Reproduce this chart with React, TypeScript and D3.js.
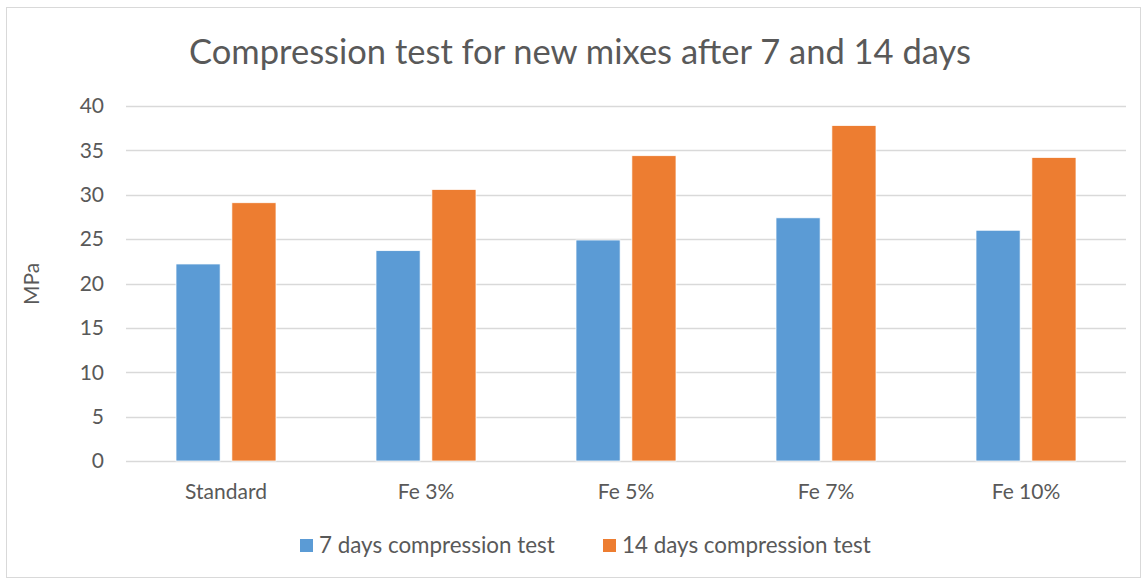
import * as d3 from "d3";
import { useEffect, useRef } from "react";

const categories = ["Standard", "Fe 3%", "Fe 5%", "Fe 7%", "Fe 10%"];
const seriesNames = ["7 days compression test", "14 days compression test"];
const days7 = [22.2, 23.7, 24.9, 27.4, 26.0];
const days14 = [29.1, 30.6, 34.4, 37.8, 34.2];
const yTicks = [0, 5, 10, 15, 20, 25, 30, 35, 40];
const colors = ["#5B9BD5", "#ED7D31"];

const W = 1146, H = 580;
const FONT = "Lato, 'Open Sans', sans-serif";
const TXT = "#595959";

const App = () => {
    const svgRef = useRef<SVGSVGElement | null>(null);

    useEffect(() => {
        const svg = d3.select(svgRef.current);
        svg.selectAll("*").remove();

        const plot = { left: 126, right: 1126, top: 106, bottom: 461 };

        // chart frame
        svg.append("rect")
            .attr("x", 6.5).attr("y", 7.5)
            .attr("width", 1134).attr("height", 570)
            .attr("fill", "white").attr("stroke", "#D9D9D9");

        const x = d3.scaleBand().domain(categories).range([plot.left, plot.right]);
        const y = d3.scaleLinear().domain([0, 40]).range([plot.bottom, plot.top]);
        const inner = d3.scaleBand().domain(["0", "1"]).range([0, 100]).paddingInner(0.21);

        // gridlines
        svg.append("g").selectAll("line")
            .data(yTicks)
            .join("line")
            .attr("x1", plot.left).attr("x2", plot.right)
            .attr("y1", d => Math.round(y(d)) + 0.5).attr("y2", d => Math.round(y(d)) + 0.5)
            .attr("stroke", "#D9D9D9").attr("stroke-width", 1.5);

        // y tick labels
        svg.append("g").selectAll("text")
            .data(yTicks)
            .join("text")
            .attr("x", 104).attr("y", d => y(d))
            .attr("dy", "0.35em")
            .attr("text-anchor", "end")
            .attr("font-family", FONT).attr("font-size", 21).attr("fill", TXT)
            .text(d => d);

        // bars
        const series = [days7, days14];
        const groups = svg.append("g").selectAll("g")
            .data(categories)
            .join("g")
            .attr("transform", d => `translate(${(x(d) as number) + x.bandwidth() / 2 - 50},0)`);

        groups.selectAll("rect")
            .data((_, i) => series.map((s, k) => ({ k, v: s[i] })))
            .join("rect")
            .attr("x", d => inner(String(d.k)) as number)
            .attr("width", inner.bandwidth())
            .attr("y", d => y(d.v))
            .attr("height", d => y(0) - y(d.v))
            .attr("fill", d => colors[d.k])
            .attr("stroke", "white").attr("stroke-width", 0.75);

        // category labels
        svg.append("g").selectAll("text")
            .data(categories)
            .join("text")
            .attr("x", d => (x(d) as number) + x.bandwidth() / 2)
            .attr("y", 499)
            .attr("text-anchor", "middle")
            .attr("font-family", FONT).attr("font-size", 21).attr("fill", TXT)
            .text(d => d);

        // title
        svg.append("text")
            .attr("x", 580).attr("y", 64)
            .attr("text-anchor", "middle")
            .attr("font-family", FONT).attr("font-size", 34.5).attr("fill", TXT)
            .text("Compression test for new mixes after 7 and 14 days");

        // y axis title
        svg.append("text")
            .attr("transform", "translate(39,284) rotate(-90)")
            .attr("text-anchor", "middle")
            .attr("font-family", FONT).attr("font-size", 21).attr("fill", TXT)
            .text("MPa");

        // legend
        const legendX = [300, 603];
        const lg = svg.append("g").selectAll("g")
            .data(seriesNames)
            .join("g")
            .attr("transform", (_, i) => `translate(${legendX[i]},545)`);
        lg.append("rect")
            .attr("x", 0).attr("y", -6)
            .attr("width", 13).attr("height", 13)
            .attr("fill", (_, i) => colors[i]);
        lg.append("text")
            .attr("x", 19).attr("y", 0)
            .attr("dy", "0.35em")
            .attr("font-family", FONT).attr("font-size", 22.4).attr("fill", TXT)
            .text(d => d);
    }, []);

    return (
        <svg ref={svgRef} width={W} height={H}
            style={{ position: "absolute", left: 0, top: 0 }} />
    );
};

export default App;
